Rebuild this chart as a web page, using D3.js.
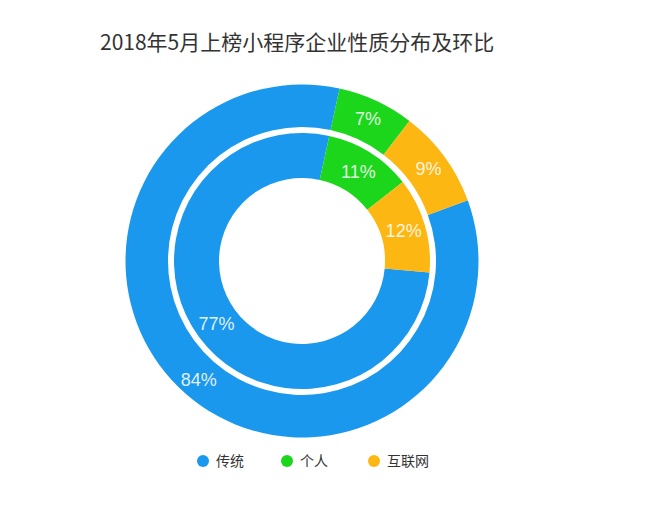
<!DOCTYPE html>
<html>
<head>
<meta charset="utf-8">
<script src="https://cdn.jsdelivr.net/npm/d3@7"></script>
<style>
  html, body { margin: 0; padding: 0; background: #fff; }
  svg { display: block; }
  .cjk { font-family: "Noto Sans CJK SC", "Noto Sans", sans-serif; }
  .pct { font-family: "Liberation Sans", Arial, sans-serif; }
</style>
</head>
<body>
<svg id="chart" width="660" height="513"></svg>
<script>
const title = "2018年5月上榜小程序企业性质分布及环比";
const categories = ["传统", "个人", "互联网"];
const outerValues = [84, 7, 9];   // 外环
const innerValues = [77, 11, 12]; // 内环
const colors = ["#1a98ee", "#1cd61c", "#fcb713"];

const svg = d3.select("#chart");
const cx = 302, cy = 261;
const startDeg = 12.3; // angle where the second category begins

svg.append("text")
  .attr("class", "cjk")
  .attr("x", 100).attr("y", 50)
  .attr("font-size", 21)
  .attr("fill", "#333")
  .text(title);

const color = d3.scaleOrdinal().domain(categories).range(colors);
const g = svg.append("g").attr("transform", `translate(${cx},${cy})`);

function ring(values, r0, r1, labelR) {
  const total = d3.sum(values);
  const start = startDeg * Math.PI / 180 - values[0] / total * 2 * Math.PI;
  const pie = d3.pie().sort(null).startAngle(start).endAngle(start + 2 * Math.PI);
  const arcs = pie(values);
  const arc = d3.arc().innerRadius(r0).outerRadius(r1);
  const labelArc = d3.arc().innerRadius(labelR).outerRadius(labelR);
  const rg = g.append("g");
  rg.selectAll("path").data(arcs).join("path")
    .attr("d", arc)
    .attr("fill", (d, i) => color(categories[i]));
  rg.selectAll("text").data(arcs).join("text")
    .attr("class", "pct")
    .attr("transform", d => `translate(${labelArc.centroid(d)})`)
    .attr("text-anchor", "middle")
    .attr("dy", "0.36em")
    .attr("font-size", 18)
    .attr("fill", "#ffffff")
    .attr("fill-opacity", 0.88)
    .text(d => d.data + "%");
}

ring(outerValues, 134, 176.5, 157);
ring(innerValues, 83, 128, 106);

// legend
const legendX = [203, 287, 374];
const lg = svg.append("g");
categories.forEach((c, i) => {
  lg.append("circle").attr("cx", legendX[i]).attr("cy", 461).attr("r", 6).attr("fill", color(c));
  lg.append("text").attr("class", "cjk").attr("x", legendX[i] + 13).attr("y", 466)
    .attr("font-size", 14).attr("fill", "#333").text(c);
});
</script>
</body>
</html>
